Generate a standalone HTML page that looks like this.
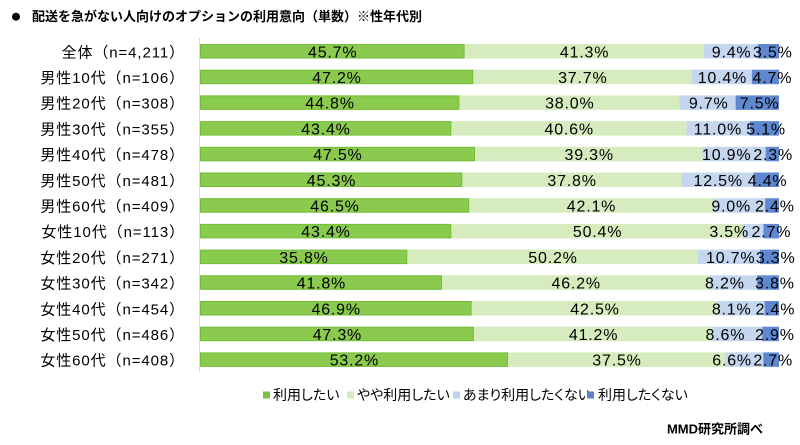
<!DOCTYPE html>
<html><head><meta charset="utf-8">
<style>
html,body{margin:0;padding:0;background:#fff;}
svg{display:block;}
.lbl{font-family:"Liberation Sans","Noto Sans CJK JP",sans-serif;font-size:15px;letter-spacing:0.9px;fill:#000;}
.val{font-family:"Liberation Sans","Noto Sans CJK JP",sans-serif;font-size:16px;letter-spacing:0.8px;fill:#000;}
.leg{font-family:"Liberation Sans","Noto Sans CJK JP",sans-serif;font-size:14px;font-feature-settings:"palt";fill:#000;}
.ttl{font-family:"Liberation Sans","Noto Sans CJK JP",sans-serif;font-size:13px;font-weight:bold;fill:#000;}
.g1{fill:#8ACA4E;stroke:#6FBE33;stroke-width:1;}
.g2{fill:#D6ECBE;}
.b1{fill:#C4D7EF;}
.b2{fill:#6088D0;}
</style></head>
<body>
<svg width="800" height="445" viewBox="0 0 800 445" xmlns="http://www.w3.org/2000/svg">
<rect width="800" height="445" fill="#fff"/>
<circle cx="16" cy="16.7" r="4" fill="#000"/>
<text class="ttl" x="32" y="16.7" dominant-baseline="central">配送を急がない人向けのオプションの利用意向（単数）※性年代別</text>

<line x1="199.5" y1="38" x2="199.5" y2="372" stroke="#d9d9d9" stroke-width="1"/>

<g text-anchor="end">
<text class="lbl" x="185" y="52.75" dominant-baseline="central">全体（n=4,211）</text>
<text class="lbl" x="185" y="78.45" dominant-baseline="central">男性10代（n=106）</text>
<text class="lbl" x="185" y="104.15" dominant-baseline="central">男性20代（n=308）</text>
<text class="lbl" x="185" y="129.85" dominant-baseline="central">男性30代（n=355）</text>
<text class="lbl" x="185" y="155.55" dominant-baseline="central">男性40代（n=478）</text>
<text class="lbl" x="185" y="181.25" dominant-baseline="central">男性50代（n=481）</text>
<text class="lbl" x="185" y="206.95" dominant-baseline="central">男性60代（n=409）</text>
<text class="lbl" x="185" y="232.65" dominant-baseline="central">女性10代（n=113）</text>
<text class="lbl" x="185" y="258.35" dominant-baseline="central">女性20代（n=271）</text>
<text class="lbl" x="185" y="284.05" dominant-baseline="central">女性30代（n=342）</text>
<text class="lbl" x="185" y="309.75" dominant-baseline="central">女性40代（n=454）</text>
<text class="lbl" x="185" y="335.45" dominant-baseline="central">女性50代（n=486）</text>
<text class="lbl" x="185" y="361.15" dominant-baseline="central">女性60代（n=408）</text>
</g>

<g transform="translate(0,44)">
<rect class="g2" x="464.6" y="0" width="239.1" height="14.5"/>
<rect class="b1" x="703.7" y="0" width="54.4" height="14.5"/>
<rect class="b2" x="758.1" y="0" width="20.9" height="14.5"/>
<rect class="g1" x="200.5" y="0.5" width="263.6" height="13.5"/>
<g class="val" text-anchor="middle" transform="translate(0.4,0)">
<text x="332.3" y="8.75" dominant-baseline="central">45.7%</text>
<text x="584.2" y="8.75" dominant-baseline="central">41.3%</text>
<text x="731.2" y="8.75" dominant-baseline="central">9.4%</text>
<text x="772.4" y="8.75" dominant-baseline="central">3.5%</text>
</g></g>

<g transform="translate(0,69.7)">
<rect class="g2" x="473.3" y="0" width="218.3" height="14.5"/>
<rect class="b1" x="691.6" y="0" width="60.2" height="14.5"/>
<rect class="b2" x="751.8" y="0" width="27.2" height="14.5"/>
<rect class="g1" x="200.5" y="0.5" width="272.3" height="13.5"/>
<g class="val" text-anchor="middle" transform="translate(0.4,0)">
<text x="336.6" y="8.75" dominant-baseline="central">47.2%</text>
<text x="582.4" y="8.75" dominant-baseline="central">37.7%</text>
<text x="722" y="8.75" dominant-baseline="central">10.4%</text>
<text x="772" y="8.75" dominant-baseline="central">4.7%</text>
</g></g>

<g transform="translate(0,95.4)">
<rect class="g2" x="459.4" y="0" width="220" height="14.5"/>
<rect class="b1" x="679.4" y="0" width="56.2" height="14.5"/>
<rect class="b2" x="735.6" y="0" width="43.4" height="14.5"/>
<rect class="g1" x="200.5" y="0.5" width="258.4" height="13.5"/>
<g class="val" text-anchor="middle" transform="translate(0.4,0)">
<text x="329.7" y="8.75" dominant-baseline="central">44.8%</text>
<text x="569.4" y="8.75" dominant-baseline="central">38.0%</text>
<text x="708.3" y="8.75" dominant-baseline="central">9.7%</text>
<text x="759.2" y="8.75" dominant-baseline="central">7.5%</text>
</g></g>

<g transform="translate(0,121.1)">
<rect class="g2" x="451.3" y="0" width="235.1" height="14.5"/>
<rect class="b1" x="686.4" y="0" width="63.7" height="14.5"/>
<rect class="b2" x="750.1" y="0" width="28.9" height="14.5"/>
<rect class="g1" x="200.5" y="0.5" width="250.3" height="13.5"/>
<g class="val" text-anchor="middle" transform="translate(0.4,0)">
<text x="325.6" y="8.75" dominant-baseline="central">43.4%</text>
<text x="568.8" y="8.75" dominant-baseline="central">40.6%</text>
<text x="717.5" y="8.75" dominant-baseline="central">11.0%</text>
<text x="765.7" y="8.75" dominant-baseline="central">5.1%</text>
</g></g>

<g transform="translate(0,146.8)">
<rect class="g2" x="475" y="0" width="227.5" height="14.5"/>
<rect class="b1" x="702.5" y="0" width="63.1" height="14.5"/>
<rect class="b2" x="765.6" y="0" width="13.4" height="14.5"/>
<rect class="g1" x="200.5" y="0.5" width="274" height="13.5"/>
<g class="val" text-anchor="middle" transform="translate(0.4,0)">
<text x="337.5" y="8.75" dominant-baseline="central">47.5%</text>
<text x="588.8" y="8.75" dominant-baseline="central">39.3%</text>
<text x="726.3" y="8.75" dominant-baseline="central">10.9%</text>
<text x="772.8" y="8.75" dominant-baseline="central">2.3%</text>
</g></g>

<g transform="translate(0,172.5)">
<rect class="g2" x="462.3" y="0" width="218.9" height="14.5"/>
<rect class="b1" x="681.2" y="0" width="72.4" height="14.5"/>
<rect class="b2" x="753.6" y="0" width="25.4" height="14.5"/>
<rect class="g1" x="200.5" y="0.5" width="261.3" height="13.5"/>
<g class="val" text-anchor="middle" transform="translate(0.4,0)">
<text x="331.1" y="8.75" dominant-baseline="central">45.3%</text>
<text x="571.7" y="8.75" dominant-baseline="central">37.8%</text>
<text x="717.8" y="8.75" dominant-baseline="central">12.5%</text>
<text x="767.2" y="8.75" dominant-baseline="central">4.4%</text>
</g></g>

<g transform="translate(0,198.2)">
<rect class="g2" x="469.2" y="0" width="243.8" height="14.5"/>
<rect class="b1" x="713" y="0" width="52.1" height="14.5"/>
<rect class="b2" x="765.1" y="0" width="13.9" height="14.5"/>
<rect class="g1" x="200.5" y="0.5" width="268.2" height="13.5"/>
<g class="val" text-anchor="middle" transform="translate(0.4,0)">
<text x="334.6" y="8.75" dominant-baseline="central">46.5%</text>
<text x="591.1" y="8.75" dominant-baseline="central">42.1%</text>
<text x="730.8" y="8.75" dominant-baseline="central">9.0%</text>
<text x="774.5" y="8.75" dominant-baseline="central">2.4%</text>
</g></g>

<g transform="translate(0,223.9)">
<rect class="g2" x="451.3" y="0" width="291.8" height="14.5"/>
<rect class="b1" x="743.1" y="0" width="20.3" height="14.5"/>
<rect class="b2" x="763.4" y="0" width="15.6" height="14.5"/>
<rect class="g1" x="200.5" y="0.5" width="250.3" height="13.5"/>
<g class="val" text-anchor="middle" transform="translate(0.4,0)">
<text x="325.6" y="8.75" dominant-baseline="central">43.4%</text>
<text x="597.2" y="8.75" dominant-baseline="central">50.4%</text>
<text x="728.8" y="8.75" dominant-baseline="central">3.5%</text>
<text x="771" y="8.75" dominant-baseline="central">2.7%</text>
</g></g>

<g transform="translate(0,249.6)">
<rect class="g2" x="407.3" y="0" width="290.7" height="14.5"/>
<rect class="b1" x="698" y="0" width="62" height="14.5"/>
<rect class="b2" x="760" y="0" width="19" height="14.5"/>
<rect class="g1" x="200.5" y="0.5" width="206.3" height="13.5"/>
<g class="val" text-anchor="middle" transform="translate(0.4,0)">
<text x="303.6" y="8.75" dominant-baseline="central">35.8%</text>
<text x="552.6" y="8.75" dominant-baseline="central">50.2%</text>
<text x="730.3" y="8.75" dominant-baseline="central">10.7%</text>
<text x="775.3" y="8.75" dominant-baseline="central">3.3%</text>
</g></g>

<g transform="translate(0,275.3)">
<rect class="g2" x="442" y="0" width="267.5" height="14.5"/>
<rect class="b1" x="709.5" y="0" width="47.5" height="14.5"/>
<rect class="b2" x="757" y="0" width="22" height="14.5"/>
<rect class="g1" x="200.5" y="0.5" width="241" height="13.5"/>
<g class="val" text-anchor="middle" transform="translate(0.4,0)">
<text x="321" y="8.75" dominant-baseline="central">41.8%</text>
<text x="575.8" y="8.75" dominant-baseline="central">46.2%</text>
<text x="724.5" y="8.75" dominant-baseline="central">8.2%</text>
<text x="774.5" y="8.75" dominant-baseline="central">3.8%</text>
</g></g>

<g transform="translate(0,301)">
<rect class="g2" x="471.6" y="0" width="246.1" height="14.5"/>
<rect class="b1" x="717.7" y="0" width="46.9" height="14.5"/>
<rect class="b2" x="764.6" y="0" width="14.4" height="14.5"/>
<rect class="g1" x="200.5" y="0.5" width="270.6" height="13.5"/>
<g class="val" text-anchor="middle" transform="translate(0.4,0)">
<text x="335.8" y="8.75" dominant-baseline="central">46.9%</text>
<text x="594.6" y="8.75" dominant-baseline="central">42.5%</text>
<text x="731.3" y="8.75" dominant-baseline="central">8.1%</text>
<text x="775" y="8.75" dominant-baseline="central">2.4%</text>
</g></g>

<g transform="translate(0,326.7)">
<rect class="g2" x="473.9" y="0" width="238.5" height="14.5"/>
<rect class="b1" x="712.4" y="0" width="49.8" height="14.5"/>
<rect class="b2" x="762.2" y="0" width="16.8" height="14.5"/>
<rect class="g1" x="200.5" y="0.5" width="272.9" height="13.5"/>
<g class="val" text-anchor="middle" transform="translate(0.4,0)">
<text x="337" y="8.75" dominant-baseline="central">47.3%</text>
<text x="593.2" y="8.75" dominant-baseline="central">41.2%</text>
<text x="725" y="8.75" dominant-baseline="central">8.6%</text>
<text x="774.5" y="8.75" dominant-baseline="central">2.9%</text>
</g></g>

<g transform="translate(0,352.4)">
<rect class="g2" x="508" y="0" width="217.1" height="14.5"/>
<rect class="b1" x="725.1" y="0" width="38.2" height="14.5"/>
<rect class="b2" x="763.3" y="0" width="15.7" height="14.5"/>
<rect class="g1" x="200.5" y="0.5" width="307" height="13.5"/>
<g class="val" text-anchor="middle" transform="translate(0.4,0)">
<text x="354" y="8.75" dominant-baseline="central">53.2%</text>
<text x="616.6" y="8.75" dominant-baseline="central">37.5%</text>
<text x="731.7" y="8.75" dominant-baseline="central">6.6%</text>
<text x="772.8" y="8.75" dominant-baseline="central">2.7%</text>
</g></g>

<rect x="263" y="391.5" width="7" height="7" fill="#7CC23F"/>
<text class="leg" x="273" y="395" dominant-baseline="central">利用したい</text>
<rect x="347" y="391.5" width="7" height="7" fill="#D3EBBD"/>
<text class="leg" x="357" y="395" dominant-baseline="central">やや利用したい</text>
<rect x="453" y="391.5" width="7" height="7" fill="#BCD2EE"/>
<text class="leg" x="463" y="395" dominant-baseline="central">あまり利用したくない</text>
<rect x="587" y="391.5" width="7" height="7" fill="#5A82CC"/>
<text class="leg" x="598" y="395" dominant-baseline="central">利用したくない</text>

<text class="ttl" x="763" y="429" text-anchor="end" dominant-baseline="central">MMD研究所調べ</text>
</svg>
</body></html>
